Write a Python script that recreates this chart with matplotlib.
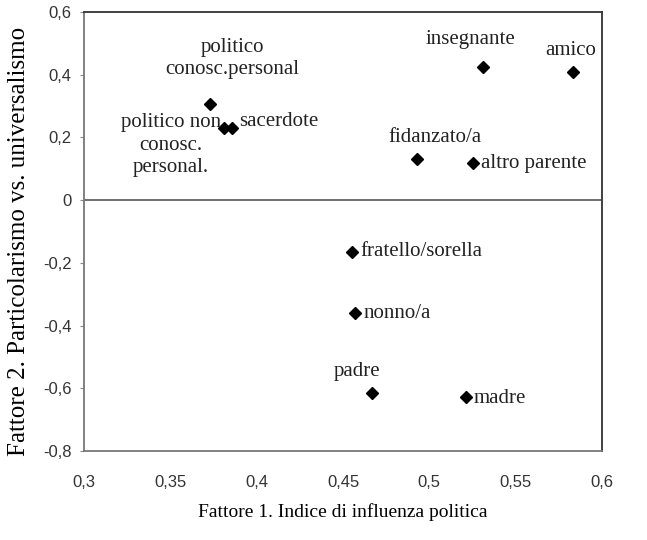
import matplotlib
matplotlib.use("Agg")
import matplotlib.pyplot as plt
from matplotlib.ticker import FuncFormatter

figsize = (6.47, 5.40)
dpi = 100

# ruoli: (Fattore 1, Fattore 2)
labels = [
    "politico\nconosc.personal",
    "politico non\nconosc.\npersonal.",
    "sacerdote",
    "insegnante",
    "amico",
    "fidanzato/a",
    "altro parente",
    "fratello/sorella",
    "nonno/a",
    "padre",
    "madre",
]
fattore1 = [0.373, 0.381, 0.386, 0.531, 0.583, 0.493, 0.525, 0.455, 0.457, 0.467, 0.521]
fattore2 = [0.306, 0.229, 0.229, 0.424, 0.408, 0.130, 0.117, -0.165, -0.360, -0.616, -0.629]

# label offsets in points, alignment
offsets = [
    (16, 18, "center", "bottom"),
    (-38, 11, "center", "top"),
    (5, 5, "left", "center"),
    (-9, 13, "center", "bottom"),
    (-20, 9, "left", "bottom"),
    (13, 9, "center", "bottom"),
    (6, 0, "left", "center"),
    (6, 0, "left", "center"),
    (6, 0, "left", "center"),
    (-11, 9, "center", "bottom"),
    (6, -1, "left", "center"),
]

xticks = [0.3, 0.35, 0.4, 0.45, 0.5, 0.55, 0.6]
yticks = [0.6, 0.4, 0.2, 0.0, -0.2, -0.4, -0.6, -0.8]


def comma(v, pos):
    s = "%g" % round(v, 2)
    return s.replace(".", ",")


fig = plt.figure(figsize=figsize, dpi=dpi)
ax = fig.add_axes([84 / 647, 1 - 451 / 540, 518 / 647, 439 / 540])

ax.plot(fattore1, fattore2, linestyle="none", marker="D", markersize=6,
        color="black", zorder=3)
ax.axhline(0, color="#555555", linewidth=1.2, zorder=2)

for lab, x, y, (dx, dy, ha, va) in zip(labels, fattore1, fattore2, offsets):
    ax.annotate(lab, (x, y), xytext=(dx, dy), textcoords="offset points",
                ha=ha, va=va, fontsize=15, family="Liberation Serif",
                color="#222222", linespacing=1.25)

ax.set_xlim(0.3, 0.6)
ax.set_ylim(-0.8, 0.6)
ax.set_xticks(xticks)
ax.set_yticks(yticks)
ax.xaxis.set_major_formatter(FuncFormatter(comma))
ax.yaxis.set_major_formatter(FuncFormatter(comma))
ax.tick_params(axis="x", length=0, pad=17, labelsize=12, labelcolor="#333333")
ax.tick_params(axis="y", length=3, pad=6, labelsize=12, labelcolor="#333333",
               color="#888888")
for lbl in ax.get_xticklabels() + ax.get_yticklabels():
    lbl.set_family("Liberation Sans")

for side in ["top", "right"]:
    ax.spines[side].set_color("#333333")
for side in ["left", "bottom"]:
    ax.spines[side].set_color("#777777")
for sp in ax.spines.values():
    sp.set_linewidth(1.3)

ax.set_xlabel("Fattore 1. Indice di influenza politica", fontsize=14,
              family="Liberation Serif", labelpad=10)
ax.set_ylabel("Fattore 2. Particolarismo vs. universalismo", fontsize=18,
              family="Liberation Serif")
ax.yaxis.set_label_coords(-0.105, 0.477)

fig.savefig("out.png", dpi=dpi)
